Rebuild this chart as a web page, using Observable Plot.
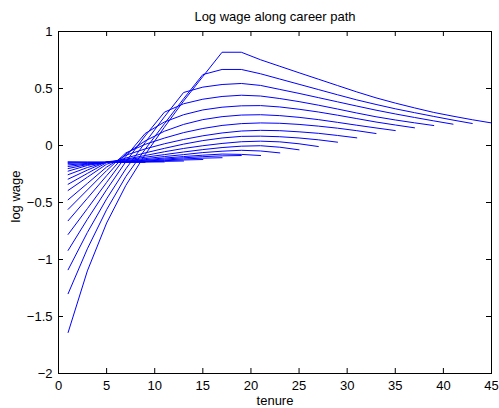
<!DOCTYPE html>
<html><head><meta charset="utf-8">
<script src="https://cdn.jsdelivr.net/npm/d3@7"></script>
<script src="https://cdn.jsdelivr.net/npm/@observablehq/plot@0.6"></script>
<style>html,body{margin:0;padding:0;background:#fff}#chart{position:absolute;left:0;top:0}</style>
</head><body><div id="chart"></div>
<script>
const title = "Log wage along career path";
const xLabel = "tenure";
const yLabel = "log wage";
const xTicks = [0, 5, 10, 15, 20, 25, 30, 35, 40, 45];
const yTicks = [-2, -1.5, -1, -0.5, 0, 0.5, 1];
// tenure points (odd years) at which each career-path series is read
const tenureGrid = [1,3,5,7,9,11,13,15,17,19,21,23,25,27,29,31,33,35,37,39,41,43,45];
// career lengths (each line ends at this tenure)
const careerEnds = [45,43,41,39,37,35,33,31,29,27,25,23,21,19,17,15,13,11,9];
const wage45 = [-1.64,-1.10,-0.68,-0.35,-0.08,0.16,0.39,0.605,0.818,0.818,0.752,0.695,0.638,0.582,0.526,0.47,0.418,0.372,0.33,0.29,0.257,0.226,0.198];
const wage43 = [-1.30,-0.906,-0.563,-0.272,-0.034,0.19,0.41,0.622,0.667,0.667,0.629,0.583,0.537,0.491,0.445,0.4,0.36,0.322,0.288,0.255,0.223,0.193];
const wage41 = [-1.09,-0.763,-0.468,-0.205,0.025,0.251,0.465,0.512,0.535,0.544,0.527,0.492,0.457,0.42,0.383,0.346,0.31,0.277,0.246,0.216,0.187];
const wage39 = [-0.92,-0.647,-0.388,-0.142,0.084,0.292,0.366,0.406,0.43,0.441,0.434,0.412,0.385,0.354,0.32,0.285,0.252,0.224,0.199,0.175];
const wage37 = [-0.78,-0.554,-0.324,-0.096,0.105,0.206,0.27,0.312,0.336,0.348,0.35,0.338,0.318,0.294,0.266,0.236,0.206,0.18,0.155];
const wage35 = [-0.66,-0.463,-0.265,-0.075,0.04,0.125,0.185,0.227,0.253,0.267,0.27,0.262,0.247,0.227,0.203,0.178,0.154,0.131];
const wage33 = [-0.56,-0.39,-0.22,-0.065,0.01,0.065,0.113,0.149,0.176,0.192,0.198,0.195,0.185,0.17,0.152,0.13,0.105];
const wage31 = [-0.476,-0.333,-0.189,-0.085,-0.03,0.015,0.053,0.085,0.11,0.127,0.133,0.13,0.12,0.107,0.088,0.067];
const wage29 = [-0.394,-0.278,-0.164,-0.11,-0.065,-0.025,0.012,0.043,0.066,0.08,0.082,0.077,0.066,0.05,0.029];
const wage27 = [-0.34,-0.245,-0.15,-0.12,-0.088,-0.055,-0.026,-0.002,0.018,0.033,0.038,0.032,0.015,-0.009];
const wage25 = [-0.295,-0.216,-0.143,-0.125,-0.103,-0.08,-0.057,-0.036,-0.018,-0.006,-0.002,-0.015,-0.038];
const wage23 = [-0.256,-0.193,-0.145,-0.132,-0.115,-0.097,-0.08,-0.062,-0.05,-0.042,-0.048,-0.065];
const wage21 = [-0.225,-0.175,-0.147,-0.137,-0.124,-0.11,-0.097,-0.085,-0.075,-0.078,-0.088];
const wage19 = [-0.202,-0.167,-0.148,-0.14,-0.13,-0.119,-0.108,-0.098,-0.091,-0.088];
const wage17 = [-0.184,-0.162,-0.149,-0.143,-0.136,-0.127,-0.118,-0.111,-0.107];
const wage15 = [-0.17,-0.157,-0.149,-0.144,-0.139,-0.133,-0.127,-0.123];
const wage13 = [-0.157,-0.151,-0.148,-0.145,-0.142,-0.139,-0.136];
const wage11 = [-0.148,-0.147,-0.146,-0.146,-0.145,-0.144];
const wage9  = [-0.143,-0.145,-0.146,-0.147,-0.148];
const series = [wage45,wage43,wage41,wage39,wage37,wage35,wage33,wage31,wage29,wage27,wage25,wage23,wage21,wage19,wage17,wage15,wage13,wage11,wage9];

const rows = [];
series.forEach((vals, k) => vals.forEach((v, i) => rows.push({career: careerEnds[k], tenure: tenureGrid[i], wage: v})));

const W = 499, H = 408, ML = 58, MR = 8, MT = 31, MB = 35;
const fw = W - ML - MR, fh = H - MT - MB, tl = 5;
const fmt = d3.format("");
const FS = 13;

const chart = Plot.plot({
  width: W, height: H,
  marginLeft: ML, marginRight: MR, marginTop: MT, marginBottom: MB,
  style: {fontFamily: "'Liberation Sans', Arial, Helvetica, sans-serif", background: "#fff", color: "#000"},
  x: {domain: [0, 45], axis: null},
  y: {domain: [-2, 1], axis: null},
  marks: [
    Plot.line(rows, {x: "tenure", y: "wage", z: "career", stroke: "#0000ff", strokeWidth: 1}),
    Plot.tickX(xTicks, {x: d => d, stroke: "#000", insetTop: fh - tl}),
    Plot.tickX(xTicks, {x: d => d, stroke: "#000", insetBottom: fh - tl}),
    Plot.tickY(yTicks, {y: d => d, stroke: "#000", insetRight: fw - tl}),
    Plot.tickY(yTicks, {y: d => d, stroke: "#000", insetLeft: fw - tl}),
    Plot.frame({stroke: "#000", strokeWidth: 1}),
    Plot.text(xTicks, {x: d => d, text: d => fmt(d), frameAnchor: "bottom", dy: 7, lineAnchor: "top", fontSize: FS, fill: "#000"}),
    Plot.text(yTicks, {y: d => d, text: d => fmt(d), frameAnchor: "left", dx: -6, textAnchor: "end", fontSize: FS, fill: "#000"}),
    Plot.text([title], {frameAnchor: "top", dy: -11, lineAnchor: "bottom", fontSize: FS, fill: "#000"}),
    Plot.text([xLabel], {frameAnchor: "bottom", dy: 31, lineAnchor: "bottom", fontSize: FS, fill: "#000"}),
    Plot.text([yLabel], {frameAnchor: "left", dx: -43, dy: 20, rotate: -90, fontSize: FS, fill: "#000"})
  ]
});
document.getElementById("chart").appendChild(chart);
</script>
</body></html>
